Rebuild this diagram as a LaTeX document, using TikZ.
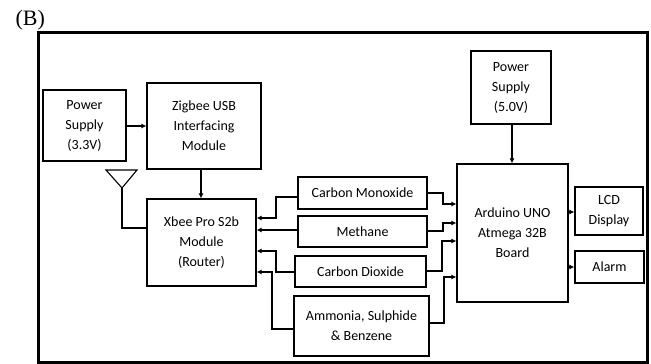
\documentclass[tikz,border=0pt]{standalone}
\usepackage{fontspec}
\setmainfont{Carlito}
\newfontfamily\timesfont{Liberation Serif}
\usetikzlibrary{arrows.meta}
\begin{document}
\begin{tikzpicture}[x=1pt,y=-1pt,
  blk/.style={draw,line width=1.1pt,align=center,inner sep=0pt,font=\fontsize{14}{20}\selectfont},
  conn/.style={line width=1.3pt},
  arr/.style={conn,-{Latex[length=5pt,width=5pt]}}]
\useasboundingbox (0,0) rectangle (651,364);
\node[anchor=base west,font=\timesfont\fontsize{22}{24}\selectfont] (lbl) at (12,25) {(B)};
\draw[line width=3pt] (38.5,32) rectangle (647.5,362);
\node[blk,minimum width=83pt,minimum height=71pt] (ps1) at (84.5,125.5) {Power\\Supply\\(3.3V)};
\node[blk,minimum width=114pt,minimum height=86pt] (zig) at (204,126) {Zigbee USB\\Interfacing\\Module};
\node[blk,minimum width=109pt,minimum height=87pt] (xbee) at (201.5,242.5) {Xbee Pro S2b\\Module\\(Router)};
\node[blk,minimum width=129pt,minimum height=32pt] (co) at (362.5,193) {Carbon Monoxide};
\node[blk,minimum width=129pt,minimum height=31pt] (meth) at (362.5,231.5) {Methane};
\node[blk,minimum width=131pt,minimum height=31pt] (co2) at (360.5,271.5) {Carbon Dioxide};
\node[blk,minimum width=135pt,minimum height=60pt] (amm) at (361.5,326) {Ammonia, Sulphide\\\& Benzene};
\node[blk,minimum width=111pt,minimum height=138pt] (ard) at (512.5,233) {Arduino UNO\\Atmega 32B\\Board};
\node[blk,minimum width=80pt,minimum height=73pt] (ps5) at (511,87.5) {Power\\Supply\\(5.0V)};
\node[blk,minimum width=68pt,minimum height=48pt] (lcd) at (609,211) {LCD\\Display};
\node[blk,minimum width=69pt,minimum height=32pt] (alarm) at (609.5,267) {Alarm};
% antenna
\coordinate (at1) at (106,170);
\coordinate (at2) at (137,170);
\coordinate (atip) at (122,188);
\draw[line width=1.1pt,line join=miter] (at1) -- (at2) -- (atip) -- cycle;
\draw[conn] (atip) |- (xbee.west |- 0,228);
% power arrows
\draw[arr] (ps1.east |- 0,126) -- (zig.west |- 0,126);
\draw[arr] (zig.south -| 201,0) -- (xbee.north -| 201,0);
\draw[arr] (ps5.south -| 512,0) -- (ard.north -| 512,0);
% outputs
\draw[arr] (ard.east |- 0,212) -- (lcd.west |- 0,212);
\draw[arr] (ard.east |- 0,267) -- (alarm.west |- 0,267);
% gas to arduino
\draw[arr] (co.east |- 0,193) -- (443,193) -- (443,204) -- (ard.west |- 0,204);
\draw[arr] (meth.east |- 0,231) -- (443,231) -- (443,223) -- (ard.west |- 0,223);
\draw[arr] (co2.east |- 0,271) -- (442,271) -- (442,241) -- (ard.west |- 0,241);
\draw[arr] (amm.east |- 0,323) -- (444,323) -- (444,277) -- (ard.west |- 0,277);
% gas to xbee
\draw[arr] (co.west |- 0,197) -- (276,197) -- (276,218) -- (xbee.east |- 0,218);
\draw[arr] (meth.west |- 0,230) -- (xbee.east |- 0,230);
\draw[arr] (co2.west |- 0,272) -- (276,272) -- (276,251) -- (xbee.east |- 0,251);
\draw[arr] (amm.west |- 0,329) -- (272,329) -- (272,272) -- (xbee.east |- 0,272);
\end{tikzpicture}
\end{document}
